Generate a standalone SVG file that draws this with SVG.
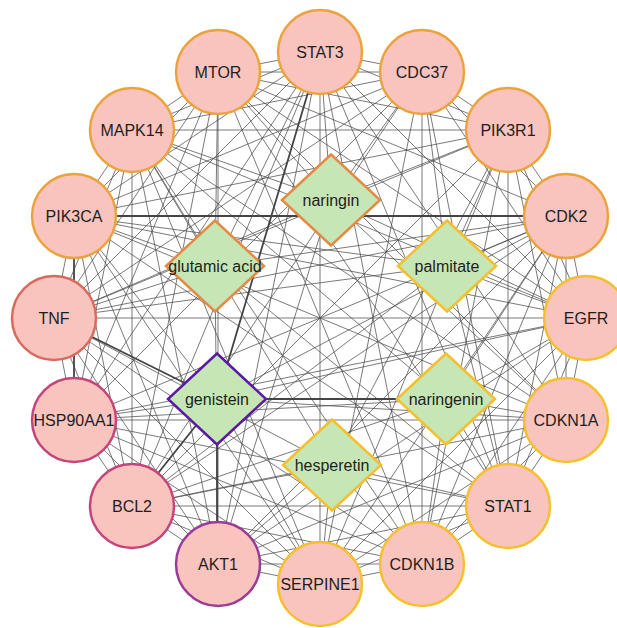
<svg xmlns="http://www.w3.org/2000/svg" width="617" height="628" viewBox="0 0 617 628">
<style>
.e{fill:none;stroke:#4e4e4e;stroke-width:0.75}
.t{fill:none;stroke:#444;stroke-width:1.8}
.c{fill:#f9c3be;stroke-width:2.5}
.d{fill:#c6e6b6;stroke-width:2.5}
.or{stroke:#eba33c}
.ye{stroke:#f6bf2c}
.rd{stroke:#d96a5e}
.mg{stroke:#c4447c}
.pu{stroke:#9a3b98}
.vi{stroke:#5b19a4}
.br{stroke:#e48a45}
text{font-family:"Liberation Sans",Arial,sans-serif;font-size:16px;fill:#1e1e1e;text-anchor:middle}
</style>
<rect width="617" height="628" fill="#fff"/>
<g id="connectors">
<path class="e" d="M320 52L422 72M320 52L508 130M320 52L586 318M320 52L566 420M320 52L508 506M320 52L422 564M320 52L320 584M320 52L218 564M320 52L132 506M320 52L74 420M320 52L54 318M320 52L74 216M320 52L132 130M320 52L218 72
M422 72L508 130M422 72L566 216M422 72L586 318M422 72L508 506M422 72L422 564M422 72L320 584M422 72L132 506M422 72L74 420M422 72L54 318M422 72L74 216M422 72L132 130M422 72L218 72
M508 130L566 216M508 130L586 318M508 130L566 420M508 130L508 506M508 130L422 564M508 130L320 584M508 130L132 506M508 130L54 318M508 130L74 216M508 130L132 130M508 130L218 72
M566 216L586 318M566 216L566 420M566 216L508 506M566 216L422 564M566 216L320 584M566 216L218 564M566 216L132 506M566 216L74 420M566 216L54 318M566 216L218 72
M586 318L566 420M586 318L508 506M586 318L422 564M586 318L320 584M586 318L218 564M586 318L74 420M586 318L54 318M586 318L74 216M586 318L132 130M586 318L218 72
M566 420L508 506M566 420L422 564M566 420L320 584M566 420L218 564M566 420L132 506M566 420L74 420M566 420L74 216M566 420L132 130M566 420L218 72
M508 506L422 564M508 506L320 584M508 506L218 564M508 506L132 506M508 506L74 420M508 506L74 216M508 506L218 72
M422 564L320 584M422 564L218 564M422 564L132 506M422 564L74 420M422 564L54 318M422 564L132 130M422 564L218 72
M320 584L218 564M320 584L132 506M320 584L74 420M320 584L54 318M320 584L74 216M320 584L132 130
M218 564L132 506M218 564L74 420M218 564L54 318M218 564L74 216M218 564L132 130M218 564L218 72
M132 506L74 420M132 506L54 318M132 506L74 216M132 506L132 130M132 506L218 72
M74 420L54 318M74 420L132 130M74 420L218 72
M54 318L74 216M54 318L132 130M54 318L218 72
M74 216L132 130M74 216L218 72
M132 130L218 72
M331 200L320 52M331 200L422 72M331 200L508 130M331 200L218 72M331 200L132 130M331 200L586 318M331 200L218 564M331 200L566 420M331 200L54 318
M215 266L218 72M215 266L132 130M215 266L74 216M215 266L54 318M215 266L218 564M215 266L566 216M215 266L320 52M215 266L508 506
M447 266L566 216M447 266L508 130M447 266L586 318M447 266L508 506M447 266L54 318M447 266L422 72M447 266L132 506M447 266L74 216
M217 399L74 420M217 399L586 318M217 399L566 420M217 399L320 584M217 399L74 216M217 399L566 216
M446 399L566 420M446 399L508 506M446 399L586 318M446 399L422 564M446 399L566 216M446 399L132 506M446 399L132 130M446 399L74 420
M332 465L320 584M332 465L422 564M332 465L508 506M332 465L218 564M332 465L132 506M332 465L132 130M332 465L508 130M332 465L54 318"/>
<path class="t" d="M74 216L566 216M74 216L74 420M217 399L320 52M217 399L54 318M217 399L132 506M217 399L217 564M217 399L446 399"/>
</g>
<g id="STAT3"><circle class="c or" cx="320" cy="52" r="42"/><text x="320" y="58">STAT3</text></g>
<g id="CDC37"><circle class="c or" cx="422" cy="72" r="42"/><text x="422" y="78">CDC37</text></g>
<g id="PIK3R1"><circle class="c or" cx="508" cy="130" r="42"/><text x="508" y="136">PIK3R1</text></g>
<g id="CDK2"><circle class="c or" cx="566" cy="216" r="42"/><text x="566" y="222">CDK2</text></g>
<g id="EGFR"><circle class="c ye" cx="586" cy="318" r="42"/><text x="586" y="324">EGFR</text></g>
<g id="CDKN1A"><circle class="c ye" cx="566" cy="420" r="42"/><text x="566" y="426">CDKN1A</text></g>
<g id="STAT1"><circle class="c ye" cx="508" cy="506" r="42"/><text x="508" y="512">STAT1</text></g>
<g id="CDKN1B"><circle class="c ye" cx="422" cy="564" r="42"/><text x="422" y="570">CDKN1B</text></g>
<g id="SERPINE1"><circle class="c ye" cx="320" cy="584" r="42"/><text x="320" y="590">SERPINE1</text></g>
<g id="AKT1"><circle class="c pu" cx="218" cy="564" r="42"/><text x="218" y="570">AKT1</text></g>
<g id="BCL2"><circle class="c mg" cx="132" cy="506" r="42"/><text x="132" y="512">BCL2</text></g>
<g id="HSP90AA1"><circle class="c mg" cx="74" cy="420" r="42"/><text x="74" y="426">HSP90AA1</text></g>
<g id="TNF"><circle class="c rd" cx="54" cy="318" r="42"/><text x="54" y="324">TNF</text></g>
<g id="PIK3CA"><circle class="c or" cx="74" cy="216" r="42"/><text x="74" y="222">PIK3CA</text></g>
<g id="MAPK14"><circle class="c or" cx="132" cy="130" r="42"/><text x="132" y="136">MAPK14</text></g>
<g id="MTOR"><circle class="c or" cx="218" cy="72" r="42"/><text x="218" y="78">MTOR</text></g>
<g id="naringin"><path class="d br" d="M331 154.5L380 200L331 245.5L282 200Z"/><text x="331" y="206">naringin</text></g>
<g id="glutamic_acid"><path class="d br" d="M215 220.5L264 266L215 311.5L166 266Z"/><text x="215" y="272">glutamic acid</text></g>
<g id="palmitate"><path class="d ye" d="M447 220.5L496 266L447 311.5L398 266Z"/><text x="447" y="272">palmitate</text></g>
<g id="genistein"><path class="d vi" d="M217 353.5L266 399L217 444.5L168 399Z"/><text x="217" y="405">genistein</text></g>
<g id="naringenin"><path class="d ye" d="M446 353.5L495 399L446 444.5L397 399Z"/><text x="446" y="405">naringenin</text></g>
<g id="hesperetin"><path class="d ye" d="M332 419.5L381 465L332 510.5L283 465Z"/><text x="332" y="471">hesperetin</text></g>
</svg>
